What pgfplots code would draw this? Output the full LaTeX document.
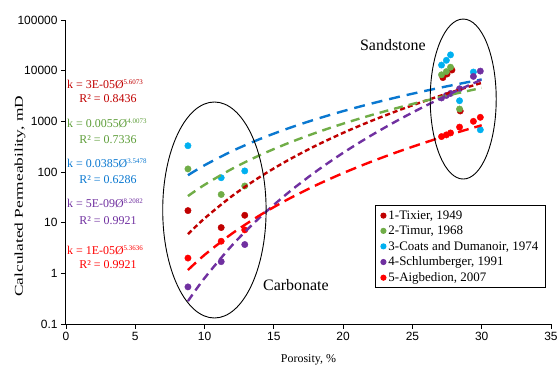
\documentclass[border=0pt]{standalone}
\usepackage{pgfplots}
\pgfplotsset{compat=1.18}
\usepackage{fontspec}
\usepackage{graphicx}
\setmainfont{Liberation Serif}
\newfontfamily\arial{Liberation Sans}
\definecolor{tix}{HTML}{C00000}
\definecolor{tim}{HTML}{70AD47}
\definecolor{timtxt}{HTML}{5E9E3A}
\definecolor{coa}{HTML}{00B0F0}
\definecolor{coaline}{HTML}{0A78D0}
\definecolor{sch}{HTML}{7030A0}
\definecolor{aig}{HTML}{FF0000}
\newcommand{\ssup}[1]{\raisebox{4bp}{\fontsize{7}{8}\selectfont #1}}
\begin{document}
\begin{tikzpicture}
\useasboundingbox (-66bp,-43bp) rectangle (493bp,324bp);
\begin{axis}[
  at={(0,0)}, anchor=south west,
  scale only axis, width=485bp, height=304bp,
  xmin=0, xmax=35, ymin=0.1, ymax=100000,
  ymode=log,
  axis lines=left, axis line style={-, line width=1bp, black},
  xtick={0,5,...,35}, xticklabels={0,5,10,15,20,25,30,35},
  ytick={0.1,1,10,100,1000,10000,100000},
  yticklabels={0.1,1,10,100,1000,10000,100000},
  yminorticks=false,
  tick align=outside, major tick length=5bp,
  tick style={black, line width=0.8bp},
  ticklabel style={font=\arial\fontsize{12}{14}\selectfont},
  xlabel={Porosity, \%},
  ylabel={\scalebox{1.45}[1]{Calculated Permeability, mD}},
  label style={font=\fontsize{12}{14}\selectfont},
  xlabel style={at={(axis description cs:0.5,-0.118)}, anchor=center},
  ylabel style={at={(axis description cs:-0.095,0.42)}, anchor=center, rotate=0},
  clip mode=individual,
  legend style={at={(rel axis cs:0.637,0.391)}, anchor=north west, draw=black,
    line width=0.9bp, font=\fontsize{13}{15}\selectfont, row sep=1.2bp,
    inner xsep=5bp, inner ysep=3bp},
  legend cell align=left,
  legend image code/.code={\fill[#1] (0bp,0bp) circle (2.6bp);},
]
% data points
\addplot[only marks, mark=*, mark size=3.2bp, color=tix] coordinates {
 (8.8,17.3) (11.2,8.0) (12.9,14) (27.2,7300) (27.5,8600) (27.85,10300) (28.45,1600)};
\addlegendentry{1-Tixier, 1949}
\addplot[only marks, mark=*, mark size=3.2bp, color=tim] coordinates {
 (8.8,115) (11.2,36) (12.9,53) (27.1,8300) (27.45,9600) (27.75,11700) (28.4,1750)};
\addlegendentry{2-Timur, 1968}
\addplot[only marks, mark=*, mark size=3.2bp, color=coa] coordinates {
 (8.8,330) (11.2,77) (12.9,105) (27.1,12900) (27.45,16000) (27.75,20500) (28.4,2550) (29.4,9400) (29.9,680)};
\addlegendentry{3-Coats and Dumanoir, 1974}
\addplot[only marks, mark=*, mark size=3.2bp, color=sch] coordinates {
 (8.8,0.54) (11.2,1.7) (12.9,3.7) (27.1,2890) (27.45,3240) (27.75,3550) (28.4,4400) (29.4,7700) (29.9,9800)};
\addlegendentry{4-Schlumberger, 1991}
\addplot[only marks, mark=*, mark size=3.2bp, color=aig] coordinates {
 (8.8,2.0) (11.2,4.3) (12.9,7.2) (27.1,500) (27.45,540) (27.75,590) (28.4,770) (29.4,1000) (29.9,1200)};
\addlegendentry{5-Aigbedion, 2007}
% trend lines
\addplot[forget plot, smooth, tix, line width=2.4bp, dash pattern=on 5bp off 3bp] coordinates {
 (8.8,5.93) (10,12.15) (12,33.8) (14,80.1) (16,169.4) (18,328) (20,592) (22,1010) (24,1646) (26,2579) (28,3907) (30,5752)};
\addplot[forget plot, smooth, tim, line width=2.4bp, dash pattern=on 9bp off 6bp] coordinates {
 (8.8,33.5) (10,55.9) (12,116.1) (14,215.4) (16,367.9) (18,589.6) (20,899.5) (22,1318) (24,1867) (26,2575) (28,3464) (30,4567)};
\addplot[forget plot, smooth, coaline, line width=2.4bp, dash pattern=on 11bp off 7bp] coordinates {
 (8.8,86.4) (10,135.9) (12,259.6) (14,448.4) (16,720.2) (18,1094) (20,1590) (22,2229) (24,3035) (26,4032) (28,5244) (30,6699)};
\addplot[forget plot, smooth, sch, line width=2.4bp, dash pattern=on 8bp off 5bp] coordinates {
 (8.8,0.283) (10,0.807) (12,3.61) (14,12.79) (16,38.24) (18,100.6) (20,238.8) (22,522.2) (24,1067) (26,2058) (28,3781) (30,6661)};
\addplot[forget plot, smooth, aig, line width=2.4bp, dash pattern=on 11bp off 6bp] coordinates {
 (8.8,1.164) (10,2.31) (12,6.14) (14,14.04) (16,28.73) (18,54.06) (20,95.1) (22,158.6) (24,252.9) (26,388.4) (28,578.1) (30,837)};
% equations
\begin{scope}[every node/.style={font=\fontsize{12}{14}\selectfont, inner sep=0pt}]
\node[anchor=west, text=tix] at (rel axis cs:0.002,0.789) {k = 3E-05Ø\ssup{5.6073}};
\node[text=tix] at (rel axis cs:0.0866,0.742) {R² = 0.8436};
\node[anchor=west, text=timtxt] at (rel axis cs:0.002,0.660) {k = 0.0055Ø\ssup{4.0073}};
\node[text=timtxt] at (rel axis cs:0.0866,0.605) {R² = 0.7336};
\node[anchor=west, text=coaline] at (rel axis cs:0.002,0.530) {k = 0.0385Ø\ssup{3.5478}};
\node[text=coaline] at (rel axis cs:0.0866,0.476) {R² = 0.6286};
\node[anchor=west, text=sch] at (rel axis cs:0.002,0.398) {k = 5E-09Ø\ssup{8.2082}};
\node[text=sch] at (rel axis cs:0.0866,0.340) {R² = 0.9921};
\node[anchor=west, text=aig] at (rel axis cs:0.002,0.243) {k = 1E-05Ø\ssup{5.3636}};
\node[text=aig] at (rel axis cs:0.0866,0.194) {R² = 0.9921};
\end{scope}
% annotations
\draw[black, line width=0.9bp] (rel axis cs:0.306,0.375) ellipse [x radius=51.7bp, y radius=108bp];
\draw[black, line width=0.9bp] (rel axis cs:0.819,0.740) ellipse [x radius=33bp, y radius=80bp];
\node[font=\fontsize{16}{19}\selectfont] at (rel axis cs:0.474,0.128) {Carbonate};
\node[font=\fontsize{16}{19}\selectfont] at (rel axis cs:0.674,0.918) {Sandstone};
\end{axis}
\end{tikzpicture}
\end{document}
